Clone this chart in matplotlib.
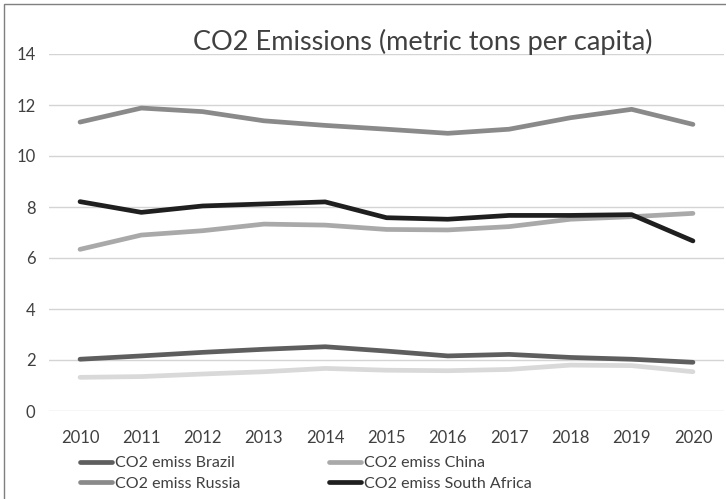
import matplotlib
matplotlib.use("Agg")
import matplotlib.pyplot as plt
from matplotlib.patches import Rectangle

years = [2010, 2011, 2012, 2013, 2014, 2015, 2016, 2017, 2018, 2019, 2020]
brazil = [2.03, 2.16, 2.30, 2.42, 2.52, 2.35, 2.16, 2.22, 2.10, 2.03, 1.91]
china = [6.34, 6.90, 7.07, 7.33, 7.29, 7.12, 7.10, 7.23, 7.52, 7.62, 7.75]
russia = [11.33, 11.88, 11.74, 11.38, 11.20, 11.05, 10.89, 11.05, 11.50, 11.83, 11.24]
south_africa = [8.21, 7.79, 8.04, 8.12, 8.20, 7.58, 7.52, 7.67, 7.67, 7.70, 6.67]
india = [1.32, 1.35, 1.45, 1.54, 1.67, 1.60, 1.58, 1.63, 1.80, 1.78, 1.54]
y_ticks = [0, 2, 4, 6, 8, 10, 12, 14]

plt.rcParams['font.family'] = ['Lato', 'DejaVu Sans']

fig = plt.figure(figsize=(7.26, 4.99), dpi=100)
ax = fig.add_axes([49.4 / 726, 1 - 411 / 499, 674.2 / 726, 357 / 499])

x = list(range(len(years)))
lw = 3.4
l_br, = ax.plot(x, brazil, color='#5e5e5e', lw=lw, label='CO2 emiss Brazil', solid_capstyle='round')
l_ch, = ax.plot(x, china, color='#a9a9a9', lw=lw, label='CO2 emiss China', solid_capstyle='round')
l_ru, = ax.plot(x, russia, color='#8a8a8a', lw=lw, label='CO2 emiss Russia', solid_capstyle='round')
l_sa, = ax.plot(x, south_africa, color='#1f1f1f', lw=lw, label='CO2 emiss South Africa', solid_capstyle='round')
ax.plot(x, india, color='#d9d9d9', lw=lw, label='_nolegend_', solid_capstyle='round')

ax.set_xlim(-0.5, len(years) - 0.5)
ax.set_ylim(0, 14)
ax.set_yticks(y_ticks)
ax.set_xticks(x)
ax.set_xticklabels([str(y) for y in years])
ax.grid(axis='y', color='#d4d4d4', lw=1)
ax.set_axisbelow(True)
for s in ax.spines.values():
    s.set_visible(False)
ax.tick_params(length=0, labelsize=12, colors='#404040')
ax.tick_params(axis='x', pad=14)
ax.tick_params(axis='y', pad=10)

fig.text(0.582, 0.915, 'CO2 Emissions (metric tons per capita)', ha='center', va='center',
         fontsize=19.5, color='#404040')

leg = fig.legend(handles=[l_br, l_ru, l_ch, l_sa], ncol=2, loc='upper left',
                 bbox_to_anchor=(80 / 726, 1 - 456 / 499), frameon=False,
                 fontsize=11.5, handlelength=2.0, handletextpad=0.2,
                 columnspacing=5.55, labelspacing=0.42, borderaxespad=0, borderpad=0)
for t in leg.get_texts():
    t.set_color('#404040')

fig.patches.append(Rectangle((4 / 726, -0.1), 2, 1.1 - 4 / 499, transform=fig.transFigure,
                             fill=False, edgecolor='#7f7f7f', lw=1))

fig.savefig('out.png', dpi=100)
